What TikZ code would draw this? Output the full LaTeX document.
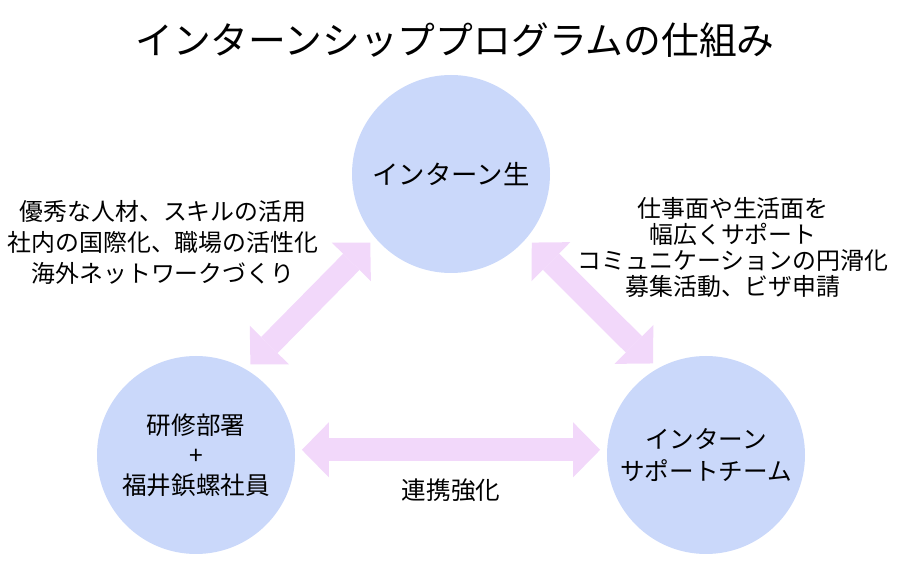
\documentclass[tikz,border=0pt]{standalone}
\usepackage{fontspec}
\setmainfont{Noto Sans CJK JP}
\usepackage{tikz}
\usetikzlibrary{arrows.meta, positioning}
\usepackage{xcolor}
\definecolor{circblue}{RGB}{202,216,250}
\definecolor{arrowpink}{RGB}{242,216,250}

\begin{document}
\begin{tikzpicture}[
    party/.style={circle, fill=circblue, minimum size=3.96cm, inner sep=0pt, outer sep=0pt, align=center},
    bigarrow/.style={draw=arrowpink, line width=4.6mm,
        {Triangle[length=5.4mm, width=11mm, line width=0pt]}-{Triangle[length=5.4mm, width=11mm, line width=0pt]},
        shorten <=1.4mm, shorten >=1.4mm},
    note/.style={align=center, font=\fontsize{13.6}{17.5}\selectfont}
]
\useasboundingbox (0,0) rectangle (18,11.6);

% Title
\node (title) at (9.1,10.8) {\fontsize{21.5}{25}\selectfont インターンシッププログラムの仕組み};

% Nodes
\node[party, font=\fontsize{15}{18}\selectfont] (stud) at (9.02,8.12) {インターン生};
\node[party, font=\fontsize{14}{17}\selectfont] (dept) at (3.92,2.50) {研修部署\\+\\福井鋲螺社員};
\node[party, font=\fontsize{14}{18}\selectfont] (supp) at (14.12,2.50) {インターン\\サポートチーム};

% Arrows
\draw[bigarrow] (dept.60.5) -- (stud.220.7);
\draw[bigarrow] (stud.320) -- (supp.119.5);
\draw[bigarrow] (dept.3) -- (supp.177);

% Labels
\node[note] (merits) at (3.26,6.75) {優秀な人材、スキルの活用\\社内の国際化、職場の活性化\\海外ネットワークづくり};
\node[note, font=\fontsize{13.6}{14.8}\selectfont] (support) at (14.66,6.65) {仕事面や生活面を\\幅広くサポート\\コミュニケーションの円滑化\\募集活動、ビザ申請};
\node[note, font=\fontsize{14}{17}\selectfont] (collab) at (9.02,1.80) {連携強化};

\end{tikzpicture}
\end{document}
